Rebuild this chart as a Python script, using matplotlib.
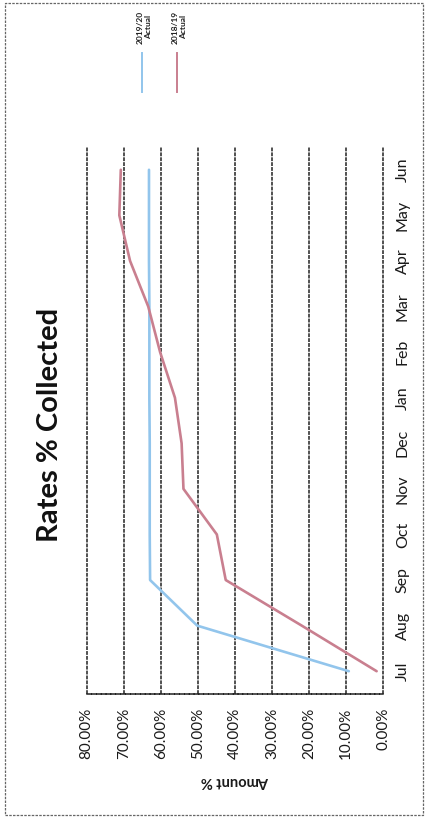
import matplotlib
matplotlib.use("Agg")
import matplotlib.pyplot as plt
from matplotlib.lines import Line2D
from matplotlib.patches import Rectangle

plt.rcParams['font.family'] = ['Lato', 'DejaVu Sans']

months = ["Jul", "Aug", "Sep", "Oct", "Nov", "Dec",
          "Jan", "Feb", "Mar", "Apr", "May", "Jun"]
actual_1920 = [9.3, 50.2, 62.9, 63.0, 63.0, 63.0, 63.1, 63.1, 63.1, 63.2, 63.2, 63.2]
actual_1819 = [1.8, 22.0, 42.5, 44.9, 53.9, 54.4, 56.2, 60.2, 63.4, 68.3, 71.2, 70.8]
pct_ticks = [0, 10, 20, 30, 40, 50, 60, 70, 80]
series_names = ["2019/20\nActual", "2018/19\nActual"]

blue = "#92c5ec"
red = "#c97f8f"
grid_col = "#222222"

W, H = 426, 825


def fx(px):
    return px / W


def fy(py):
    return 1 - py / H


fig = plt.figure(figsize=(W / 100, H / 100), dpi=100)
fig.patch.set_facecolor("white")

# page is turned on its side: percent runs right-to-left, months bottom-to-top
ax = fig.add_axes([fx(86.7), fy(694), fx(383.3) - fx(86.7), fy(147) - fy(694)])
ax.set_xlim(80, 0)
ax.set_ylim(-0.5, 11.5)

ypos = list(range(len(months)))
ax.plot(actual_1920, ypos, color=blue, lw=1.9, solid_capstyle="round")
ax.plot(actual_1819, ypos, color=red, lw=1.9, solid_capstyle="round")

ax.vlines(pct_ticks, -0.5, 11.5, colors=grid_col, lw=1.1,
          linestyles=(0, (2.5, 0.7)), clip_on=False, zorder=0)

for s in ["top", "left", "right"]:
    ax.spines[s].set_visible(False)
ax.spines["bottom"].set_color(grid_col)
ax.spines["bottom"].set_linewidth(1.1)
ax.spines["bottom"].set_linestyle((0, (2.5, 0.7)))

ax.set_xticks(pct_ticks)
ax.set_xticklabels([f"{v:.2f}%" for v in pct_ticks])
ax.tick_params(axis="x", length=0, pad=10, labelsize=11, labelrotation=90,
               colors="#1a1a1a")

ax.yaxis.tick_right()
ax.set_yticks(ypos)
ax.set_yticklabels(months)
ax.tick_params(axis="y", length=0, pad=9, labelsize=11.5, labelrotation=90,
               colors="#1a1a1a")
for lbl in ax.get_yticklabels():
    lbl.set_va("center")

fig.text(fx(50), fy(425), "Rates % Collected", rotation=90, fontsize=21,
         fontweight="bold", ha="center", va="center", color="#111111")
fig.text(fx(235), fy(781), "Amount %", rotation=180, fontsize=10.5,
         fontweight="bold", ha="center", va="center", color="#1a1a1a")

# legend, drawn sideways like the rest
for xc, name, col in [(142, series_names[0], blue), (177, series_names[1], red)]:
    fig.text(fx(xc + 2), fy(27), name, rotation=90, fontsize=6,
             fontweight="bold", ha="center", va="center",
             multialignment="center", color="#222222")
    fig.add_artist(Line2D([fx(xc), fx(xc)], [fy(53), fy(92)],
                          transform=fig.transFigure, color=col, lw=1.4))

# outer frame of the page
fig.add_artist(Rectangle((fx(5), fy(815)), fx(423) - fx(5), fy(3) - fy(815),
                         transform=fig.transFigure, fill=False,
                         edgecolor="#666666", lw=0.9, linestyle=(0, (2, 1))))

fig.savefig("out.png", dpi=100, facecolor="white")
